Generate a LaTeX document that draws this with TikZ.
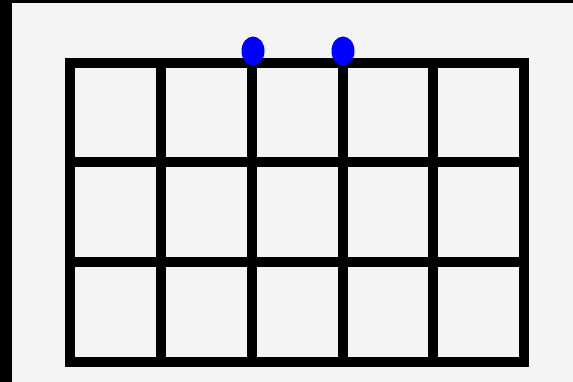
\documentclass[tikz,border=0pt]{standalone}
\usepackage{tikz}
\definecolor{bggray}{RGB}{244,244,244}
\tikzset{gridline/.style={black, line width=10pt, line join=miter},
  peg/.style={fill=blue}}

\begin{document}
\begin{tikzpicture}[x=1pt,y=-1pt]
  \fill[black] (0,0) rectangle (573,382);
  \fill[bggray] (12,3) rectangle (573,382);
  \useasboundingbox (0,0) rectangle (573,382);
  \foreach \x in {161,252,343,433} \draw[gridline] (\x,63) -- (\x,362); % columns
  \foreach \y in {162,262} \draw[gridline] (70,\y) -- (524,\y);         % rows
  \draw[gridline] (70,63) rectangle (524,362);                            % frame
  \fill[peg] (253,51) ellipse (11.5 and 14.5);
  \fill[peg] (343,51) ellipse (11.5 and 14.5);
\end{tikzpicture}
\end{document}
